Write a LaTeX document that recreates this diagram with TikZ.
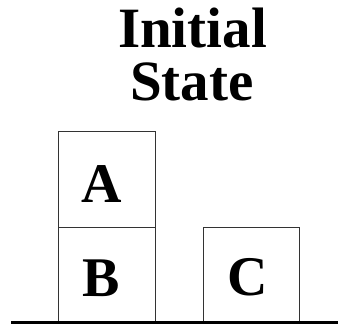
\documentclass[tikz,border=0pt]{standalone}
\usepackage{fontspec}
\setmainfont{Liberation Serif}
\begin{document}
\begin{tikzpicture}[x=1pt,y=-1pt,
  block/.style={draw=black!80,line width=0.9pt},
  letter/.style={font=\fontsize{56}{56}\selectfont\bfseries,anchor=base,inner sep=0pt},
  titletext/.style={font=\fontsize{57}{52}\selectfont\bfseries,align=center,inner sep=0pt}]
\useasboundingbox (0,0) rectangle (338,324);
\node[titletext,anchor=base] (t1) at (192.5,47.5) {Initial};
\node[titletext,anchor=base] (t2) at (192,100) {State};
\draw[block] (58.5,131.5) rectangle (155,227.5);
\draw[block] (58.5,227.5) rectangle (155,322);
\draw[block] (203,227.5) rectangle (299,322);
\node[letter] (a) at (102,202.5) {A};
\node[letter] (b) at (101.5,296.5) {B};
\node[letter] (c) at (248,295) {C};
\draw[line width=3pt] (11,322.5) -- (338,322.5);
\end{tikzpicture}
\end{document}
